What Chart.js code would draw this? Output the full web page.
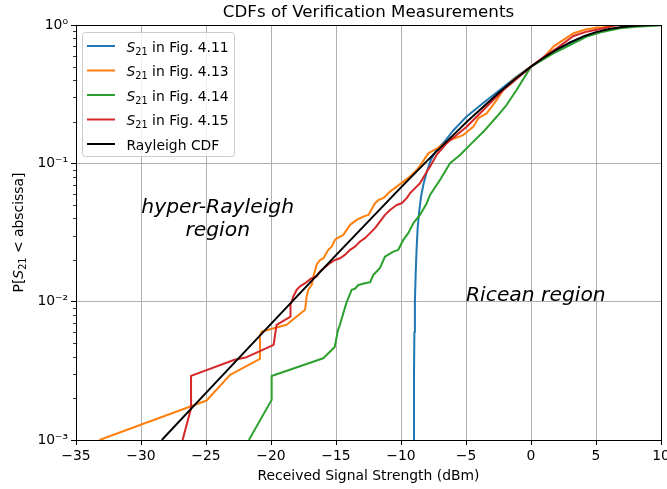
<!DOCTYPE html>
<html>
<head>
<meta charset="utf-8">
<script src="https://cdn.jsdelivr.net/npm/chart.js@4.4.0/dist/chart.umd.min.js"></script>
<style>
  body { margin: 0; background: #fff; }
  #wrap { width: 667px; height: 489px; }
</style>
</head>
<body>
<div id="wrap"><canvas id="cdf" width="667" height="489"></canvas></div>
<script>
// --- data (x in dBm, P = CDF value) ---
const x411 = [-9.03, -9.0, -8.97, -8.93, -8.87, -8.8, -8.72, -8.6, -8.45, -8.25, -8.0, -7.7, -7.3, -6.7, -6.0, -5.0, -3.7, -2.4, -1.1, 0, 1, 2, 3, 4, 5, 6, 7, 8, 9, 10];
const p411 = [0.001, 0.003, 0.006, 0.01, 0.016, 0.024, 0.034, 0.045, 0.058, 0.072, 0.088, 0.106, 0.124, 0.142, 0.172, 0.216, 0.272, 0.339, 0.424, 0.5, 0.575, 0.655, 0.735, 0.81, 0.875, 0.925, 0.962, 0.985, 0.996, 1.0];

const x413 = [-33.2, -24.95, -23.15, -20.85, -20.85, -20.7, -18.8, -17.38, -17.26, -17.13, -16.87, -16.74, -16.49, -16.23, -15.97, -15.59, -15.33, -15.08, -14.9, -14.44, -14.18, -13.92, -13.41, -12.9, -12.51, -12.0, -11.74, -11.36, -10.85, -10.33, -9.82, -9.31, -8.79, -8.41, -7.9, -7.26, -6.23, -5.21, -4.44, -4.05, -3.41, -2.64, -2.13, -1.36, 0, 1.0, 1.72, 2.49, 3.26, 4.28, 5.0, 5.56, 6.3, 7.0, 10];
const p413 = [0.001, 0.00193, 0.00296, 0.00386, 0.00575, 0.00608, 0.0068, 0.00873, 0.0109, 0.0122, 0.0132, 0.0152, 0.0185, 0.0200, 0.0206, 0.0237, 0.0250, 0.0280, 0.0288, 0.0304, 0.0330, 0.0359, 0.0390, 0.0412, 0.0424, 0.0514, 0.0543, 0.0560, 0.0625, 0.0679, 0.0738, 0.0802, 0.0895, 0.100, 0.118, 0.128, 0.1476, 0.160, 0.184, 0.212, 0.230, 0.287, 0.339, 0.401, 0.5, 0.585, 0.697, 0.78, 0.871, 0.931, 0.955, 0.962, 0.99, 1.0, 1.0];

const x414 = [-21.7, -19.95, -19.95, -15.98, -15.1, -14.85, -14.7, -14.2, -13.79, -13.54, -13.28, -12.77, -12.38, -12.13, -11.62, -11.23, -10.59, -10.21, -9.82, -9.44, -9.05, -8.54, -8.02, -7.77, -7.0, -6.23, -5.46, -4.69, -3.67, -2.64, -1.87, -1.1, 0, 1.72, 3.0, 4.28, 5.56, 6.85, 8.1, 10];
const p414 = [0.001, 0.00195, 0.0029, 0.0039, 0.0047, 0.0062, 0.0068, 0.0098, 0.0122, 0.0124, 0.0132, 0.0136, 0.0138, 0.0156, 0.0175, 0.0212, 0.023, 0.0237, 0.028, 0.0313, 0.0369, 0.0424, 0.0515, 0.059, 0.0759, 0.100, 0.115, 0.136, 0.169, 0.217, 0.265, 0.34, 0.5, 0.624, 0.716, 0.824, 0.895, 0.946, 0.973, 0.995];

const x415 = [-26.8, -26.15, -26.15, -22.8, -21.87, -19.8, -19.57, -18.5, -18.5, -18.28, -18.02, -17.77, -17.38, -16.87, -16.49, -16.23, -15.46, -15.08, -14.69, -14.31, -13.92, -13.54, -13.15, -12.77, -12.38, -12.0, -11.62, -11.23, -10.85, -10.33, -9.95, -9.56, -9.31, -9.05, -8.54, -8.02, -7.77, -7.26, -6.48, -5.72, -4.95, -4.18, -3.15, -2.13, -1.36, 0, 1, 2, 3.26, 4.28, 5.56, 6.6, 10];
const p415 = [0.001, 0.0017, 0.00291, 0.0038, 0.00397, 0.00487, 0.0068, 0.0078, 0.0095, 0.0109, 0.0122, 0.0129, 0.0136, 0.0148, 0.0152, 0.0165, 0.019, 0.020, 0.0206, 0.0218, 0.0237, 0.025, 0.0272, 0.0288, 0.0313, 0.034, 0.0379, 0.0424, 0.046, 0.050, 0.0514, 0.056, 0.0608, 0.0643, 0.0718, 0.0871, 0.0946, 0.115, 0.140, 0.160, 0.184, 0.217, 0.272, 0.339, 0.389, 0.5, 0.59, 0.68, 0.833, 0.895, 0.946, 1.0, 1.0];

const xRay = [-28.4, -25, -20, -15, -10, -7.5, -5, -2.5, -1.25, 0, 1, 2, 3, 4, 5, 6, 7, 8, 9, 10];
const pRay = [0.001, 0.00219, 0.00691, 0.0217, 0.0670, 0.116, 0.197, 0.323, 0.405, 0.5, 0.582, 0.667, 0.749, 0.825, 0.888, 0.937, 0.969, 0.987, 0.996, 0.999];

const figNames = ['4.11', '4.13', '4.14', '4.15'];
const xTicks = [-35, -30, -25, -20, -15, -10, -5, 0, 5, 10];
const yTicks = [0.001, 0.01, 0.1, 1];
const yTickLabels = ['10\u207B\u00B3', '10\u207B\u00B2', '10\u207B\u00B9', '10\u2070'];

const FONT = "'DejaVu Sans', sans-serif";
const colors = ['#1f77b4', '#ff7f0e', '#2ca02c', '#d62728', '#000000'];

function pts(xs, ps) {
    return xs.map((x, i) => ({ x: x, y: ps[i] }));
}

const seriesData = [pts(x411, p411), pts(x413, p413), pts(x414, p414), pts(x415, p415), pts(xRay, pRay)];

// --- helpers for text with S_21 ---
function drawParts(ctx, parts, x, y) {
    parts.forEach(p => {
        ctx.font = p.font;
        ctx.fillText(p.text, x, y + (p.dy || 0));
        x += ctx.measureText(p.text).width;
    });
    return x;
}
function partsWidth(ctx, parts) {
    let w = 0;
    parts.forEach(p => { ctx.font = p.font; w += ctx.measureText(p.text).width; });
    return w;
}
function s21Parts(size) {
    return [
        { text: 'S', font: 'italic ' + size + 'px ' + FONT },
        { text: '21', font: (size * 0.7).toFixed(2) + 'px ' + FONT, dy: 3 }
    ];
}

const decorations = {
    id: 'decorations',
    afterDatasetsDraw(chart) {
        const ctx = chart.ctx;
        const a = chart.chartArea;
        const xs = chart.scales.x, ys = chart.scales.y;
        ctx.save();
        ctx.fillStyle = '#000';
        ctx.strokeStyle = '#000';

        // minor ticks on the log axis
        ctx.lineWidth = 0.8;
        for (let d = -3; d < 0; d++) {
            for (let k = 2; k <= 9; k++) {
                const y = Math.round(ys.getPixelForValue(k * Math.pow(10, d))) + 0.5;
                ctx.beginPath();
                ctx.moveTo(a.left, y);
                ctx.lineTo(a.left - 3, y);
                ctx.stroke();
            }
        }

        // frame
        ctx.lineWidth = 1;
        const L = Math.round(a.left), T = Math.round(a.top), R = Math.round(a.right), B = Math.round(a.bottom);
        ctx.strokeRect(L + 0.5, T + 0.5, R - L, B - T);

        // annotations
        ctx.font = 'italic 20.3px ' + FONT;
        ctx.textBaseline = 'alphabetic';
        ctx.textAlign = 'center';
        const hx = xs.getPixelForValue(-24.1), hy = ys.getPixelForValue(0.04);
        ctx.fillText('hyper-Rayleigh', hx, hy - 5);
        ctx.fillText('region', hx, hy + 18);
        ctx.textAlign = 'left';
        ctx.fillText('Ricean region', xs.getPixelForValue(-5), ys.getPixelForValue(0.01) - 1);

        // title
        ctx.font = '16.67px ' + FONT;
        ctx.textAlign = 'center';
        ctx.fillText('CDFs of Verification Measurements', (a.left + a.right) / 2, 17);

        // x axis title
        ctx.font = '13.9px ' + FONT;
        ctx.fillText('Received Signal Strength (dBm)', (a.left + a.right) / 2, 480);

        // y axis title
        ctx.textAlign = 'left';
        const yParts = [{ text: 'P[', font: '13.9px ' + FONT }].concat(s21Parts(13.9), [{ text: ' < abscissa]', font: '13.9px ' + FONT }]);
        const yw = partsWidth(ctx, yParts);
        ctx.save();
        ctx.translate(23, (a.top + a.bottom) / 2);
        ctx.rotate(-Math.PI / 2);
        drawParts(ctx, yParts, -yw / 2, 0);
        ctx.restore();

        // legend
        const bx = 82.5, by = 32.5, bw = 152, bh = 124, r = 3;
        ctx.beginPath();
        ctx.moveTo(bx + r, by);
        ctx.arcTo(bx + bw, by, bx + bw, by + bh, r);
        ctx.arcTo(bx + bw, by + bh, bx, by + bh, r);
        ctx.arcTo(bx, by + bh, bx, by, r);
        ctx.arcTo(bx, by, bx + bw, by, r);
        ctx.closePath();
        ctx.fillStyle = 'rgba(255,255,255,0.8)';
        ctx.fill();
        ctx.strokeStyle = '#cccccc';
        ctx.stroke();

        const rowY = [46, 70.5, 95, 119.5, 144];
        rowY.forEach((cy, i) => {
            ctx.strokeStyle = colors[i];
            ctx.lineWidth = 2;
            ctx.beginPath();
            ctx.moveTo(87, cy);
            ctx.lineTo(115, cy);
            ctx.stroke();
            ctx.fillStyle = '#000';
            const base = cy + 5.5;
            if (i < 4) {
                drawParts(ctx, s21Parts(13.9).concat([{ text: ' in Fig. ' + figNames[i], font: '13.9px ' + FONT }]), 126.5, base);
            } else {
                ctx.font = '13.9px ' + FONT;
                ctx.fillText('Rayleigh CDF', 126.5, base);
            }
        });
        ctx.restore();
    }
};

const datasets = seriesData.map((d, i) => ({
    label: i < 4 ? 'S21 in Fig. ' + figNames[i] : 'Rayleigh CDF',
    data: d,
    borderColor: colors[i],
    backgroundColor: colors[i],
    borderWidth: 2,
    pointRadius: 0,
    tension: 0,
    fill: false,
    borderJoinStyle: 'round',
    order: 5 - i
}));

new Chart(document.getElementById('cdf').getContext('2d'), {
    type: 'line',
    data: { datasets: datasets },
    plugins: [decorations],
    options: {
        responsive: false,
        animation: false,
        events: [],
        layout: { padding: { top: 25, right: 6, left: 0, bottom: 0 } },
        plugins: {
            legend: { display: false },
            tooltip: { enabled: false },
            title: { display: false }
        },
        scales: {
            x: {
                type: 'linear',
                min: -35,
                max: 10,
                afterBuildTicks: (s) => { s.ticks = xTicks.map(v => ({ value: v })); },
                afterFit: (s) => { s.height = 49; s.paddingLeft = 0; s.paddingRight = 0; },
                ticks: {
                    autoSkip: false,
                    maxRotation: 0,
                    padding: 3,
                    color: '#000',
                    font: { family: FONT, size: 13.9 },
                    callback: (v) => v < 0 ? '\u2212' + Math.abs(v) : String(v)
                },
                grid: { color: '#b0b0b0', lineWidth: 1, tickLength: 5, tickColor: '#000' },
                border: { display: false }
            },
            y: {
                type: 'logarithmic',
                min: 0.001,
                max: 1,
                afterBuildTicks: (s) => { s.ticks = yTicks.map(v => ({ value: v })); },
                afterFit: (s) => { s.width = 76; s.paddingTop = 0; s.paddingBottom = 0; },
                ticks: {
                    autoSkip: false,
                    padding: 3,
                    color: '#000',
                    font: { family: FONT, size: 13.9 },
                    callback: (v, i) => yTickLabels[i]
                },
                grid: { color: '#b0b0b0', lineWidth: 1, tickLength: 5, tickColor: '#000' },
                border: { display: false }
            }
        }
    }
});
</script>
</body>
</html>
